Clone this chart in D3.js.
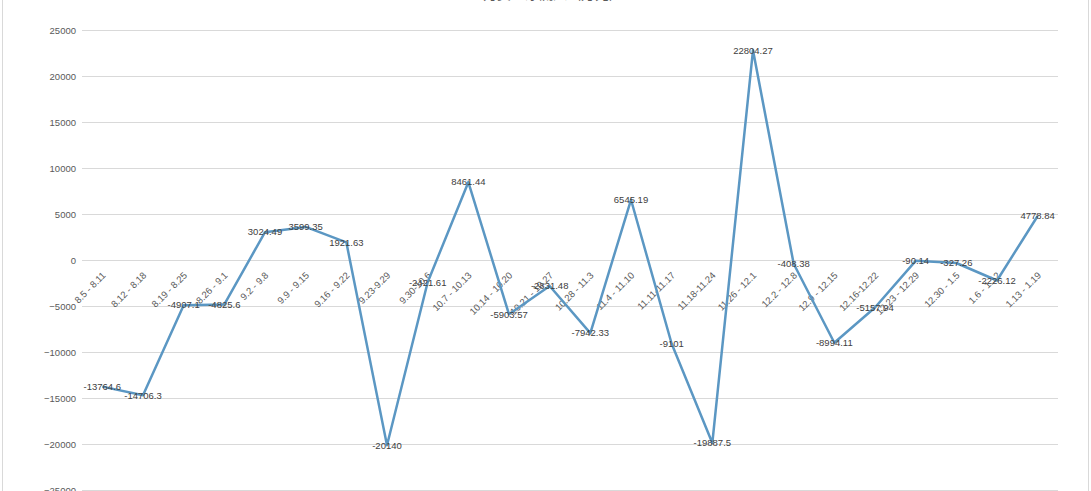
<!DOCTYPE html>
<html><head><meta charset="utf-8">
<script src="https://cdn.jsdelivr.net/npm/d3@7/dist/d3.min.js"></script>
<style>body{margin:0;background:#fff;}svg{display:block;font-family:"Liberation Sans",Arial,sans-serif;}</style>
</head><body><svg id="c" width="1091" height="491"></svg>
<script>
const title = "主力资金净流入（万元）";
const categories = ["8.5 - 8.11","8.12 - 8.18","8.19 - 8.25","8.26 - 9.1","9.2 - 9.8","9.9 - 9.15","9.16 - 9.22","9.23-9.29","9.30-10.6","10.7 - 10.13","10.14 - 10.20","10.21 - 10.27","10.28 - 11.3","11.4 - 11.10","11.11-11.17","11.18-11.24","11.26 - 12.1","12.2 - 12.8","12.9 - 12.15","12.16-12.22","12.23 - 12.29","12.30 - 1.5","1.6 - 1.12","1.13 - 1.19"];
const values = [-13764.6,-14706.3,-4907.1,-4825.6,3024.49,3599.35,1921.63,-20140,-2421.61,8461.44,-5903.57,-2831.48,-7942.33,6545.19,-9101,-19887.5,22804.27,-408.38,-8994.11,-5157.94,-90.14,-327.26,-2226.12,4778.84];
const yTicks = [25000,20000,15000,10000,5000,0,-5000,-10000,-15000,-20000,-25000];

const svg = d3.select("#c");
const L = 82, R = 1058, T = 30, B = 490;
svg.append("rect").attr("x",2.5).attr("y",-10).attr("width",1086).attr("height",510)
  .attr("fill","#fff").attr("stroke","#d9d9d9");
const x = d3.scaleBand().domain(categories).range([L,R]);
const y = d3.scaleLinear().domain([-25000,25000]).range([B,T]);

svg.append("text").attr("x",546).attr("y",-1).attr("text-anchor","middle")
  .attr("font-size",14).attr("fill","#595959").attr("font-family","Noto Sans CJK SC").text(title);

const yAxis = svg.append("g").attr("transform",`translate(${L},0)`)
  .call(d3.axisLeft(y).tickValues(yTicks).tickSize(-(R-L)).tickPadding(6).tickFormat(d3.format("d")));
yAxis.select(".domain").remove();
yAxis.selectAll("line").attr("stroke","#d9d9d9");
yAxis.selectAll("text").attr("font-size",9.5).attr("fill","#595959");

const xAxis = svg.append("g").attr("transform",`translate(0,${y(0)})`)
  .call(d3.axisBottom(x).tickSize(0).tickPadding(0));
xAxis.select(".domain").remove();
xAxis.selectAll("text").attr("font-size",9.5).attr("fill","#595959")
  .attr("text-anchor","end").attr("dy",null).attr("y",null)
  .attr("transform","translate(4,16) rotate(-45)");

const line = d3.line().x((d,i)=>x(categories[i])+x.bandwidth()/2).y(d=>y(d));
svg.append("path").datum(values).attr("d",line).attr("fill","none")
  .attr("stroke","#5b97c3").attr("stroke-width",2.5).attr("stroke-linejoin","round");

svg.append("g").selectAll("text").data(values).join("text")
  .attr("x",(d,i)=>x(categories[i])+x.bandwidth()/2)
  .attr("y",d=>y(d)).attr("dy","0.35em").attr("text-anchor","middle")
  .attr("font-size",9.5).attr("fill","#404040").text(d=>d);
</script></body></html>
